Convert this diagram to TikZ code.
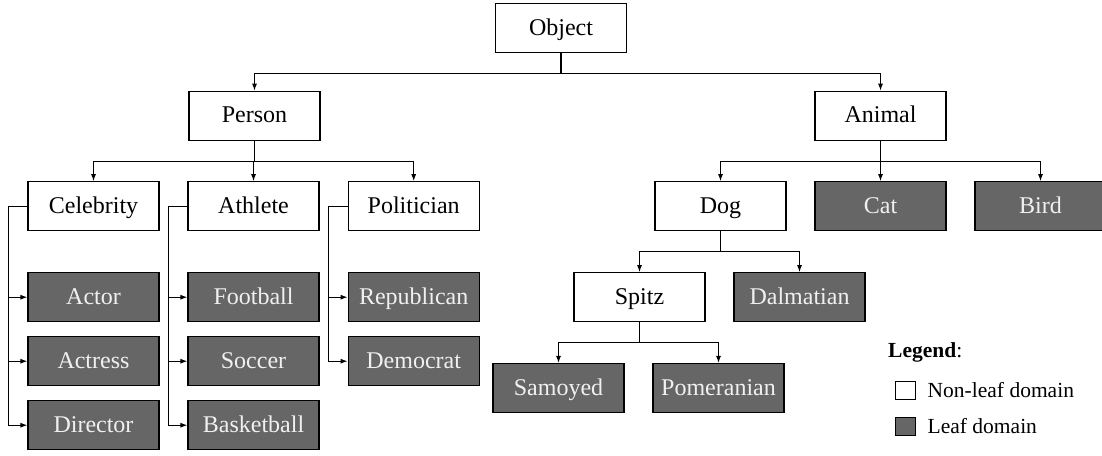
\documentclass[tikz,border=0pt]{standalone}
\usepackage{fontspec}
\setmainfont{Liberation Serif}
\usetikzlibrary{arrows.meta}
\definecolor{leafgray}{RGB}{102,102,102}
\begin{document}
\begin{tikzpicture}[x=1pt,y=-1pt,
  box/.style={draw=black,line width=1.1pt,minimum width=131pt,minimum height=49pt,
    inner sep=0pt,text height=17pt,text depth=3pt,font=\fontsize{24}{27}\selectfont},
  inner/.style={box,fill=white,text=black},
  leaf/.style={box,fill=leafgray,text=white!94!black},
  conn/.style={draw=black,line width=1.1pt,-{Latex[length=7pt,width=5pt]}},
  legtext/.style={anchor=west,inner sep=0pt,font=\fontsize{21.5}{24}\selectfont},
  legbox/.style={draw=black,line width=1pt,minimum width=20pt,minimum height=18pt,inner sep=0pt}]
\useasboundingbox (0,0) rectangle (1102,455);

% root and first level
\node[inner] (obj) at (561,28) {Object};
\node[inner] (person) at (254.5,115.7) {Person};
\node[inner] (animal) at (880.5,115.7) {Animal};

% person branch
\node[inner] (celeb) at (93.5,206.2) {Celebrity};
\node[inner] (athl) at (253.5,206.2) {Athlete};
\node[inner] (polit) at (413.7,206.2) {Politician};

\node[leaf] (actor) at (93.5,297.2) {Actor};
\node[leaf] (actress) at (93.5,361.2) {Actress};
\node[leaf] (director) at (93.5,425.2) {Director};

\node[leaf] (football) at (253.5,297.2) {Football};
\node[leaf] (soccer) at (253.5,361.2) {Soccer};
\node[leaf] (basket) at (253.5,425.2) {Basketball};

\node[leaf] (repub) at (413.7,297.2) {Republican};
\node[leaf] (democ) at (413.7,361.2) {Democrat};

% animal branch
\node[inner] (dog) at (720.5,206.2) {Dog};
\node[leaf] (cat) at (880.5,206.2) {Cat};
\node[leaf] (bird) at (1040.5,206.2) {Bird};

\node[inner] (spitz) at (639.5,297.2) {Spitz};
\node[leaf] (dalm) at (799.5,297.2) {Dalmatian};

\node[leaf] (samoyed) at (558.5,388) {Samoyed};
\node[leaf] (pomer) at (718.5,388) {Pomeranian};

% top-down connectors
\foreach \p/\c in {obj/person,obj/animal,
                   person/celeb,person/athl,person/polit,
                   animal/dog,animal/cat,animal/bird,
                   dog/spitz,dog/dalm,
                   spitz/samoyed,spitz/pomer}
  \draw[conn] (\p.south) -- ++(0,20.5) -| (\c.north);

% side connectors to stacked leaves
\foreach \p/\c in {celeb/actor,celeb/actress,celeb/director,
                   athl/football,athl/soccer,athl/basket,
                   polit/repub,polit/democ}
  \draw[conn] (\p.west) -- ++(-18.8,0) |- (\c.west);

% legend
\node[legtext] (legtitle) at (888,352) {\textbf{Legend}:};
\node[legbox,fill=white] (lgwhite) at (905.5,390.5) {};
\node[legbox,fill=leafgray] (lggray) at (905.5,426.5) {};
\node[legtext] (lgwhitetext) at (927.5,390.5) {Non-leaf domain};
\node[legtext] (lggraytext) at (927.5,426.5) {Leaf domain};
\end{tikzpicture}
\end{document}
